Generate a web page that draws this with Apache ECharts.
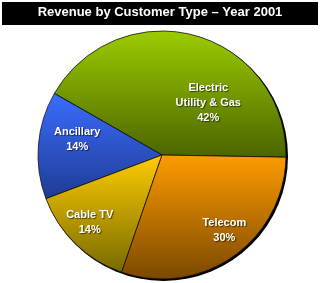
<!DOCTYPE html>
<html>
<head>
<meta charset="utf-8">
<script src="https://cdn.jsdelivr.net/npm/echarts@6/dist/echarts.min.js"></script>
<style>html,body{margin:0;padding:0;background:#fff}#c{width:320px;height:283px}</style>
</head>
<body>
<div id="c"></div>
<script>
const titleText = 'Revenue by Customer Type – Year 2001';
const categories = ['Electric\nUtility & Gas', 'Ancillary', 'Cable TV', 'Telecom'];
const values = [42, 14, 14, 30];

const gradients = [
  ['#9ccc00', '#4b6400'],
  ['#3a6cff', '#1f3c94'],
  ['#ffcc00', '#776a00'],
  ['#ff9c00', '#7a4800']
];
const labelShift = [[29, 11], [-20, -10], [-27, 21], [25, 22]];

function grad(c) {
  return new echarts.graphic.LinearGradient(0, 0, 0, 1, [
    { offset: 0, color: c[0] }, { offset: 1, color: c[1] }
  ]);
}

const chart = echarts.init(document.getElementById('c'), null, { renderer: 'canvas' });
chart.setOption({
  animation: false,
  graphic: [
    { type: 'rect', shape: { x: 2, y: 2, width: 316, height: 23 }, style: { fill: '#000' }, z: 1 },
    { type: 'text', left: 'center', top: 6, z: 2,
      style: { text: titleText, fill: '#fff', font: 'bold 13px "Liberation Sans", Arial, sans-serif',
        textShadowColor: 'rgba(110,110,110,0.9)', textShadowOffsetX: 1, textShadowOffsetY: 1 } }
  ],
  series: [
    {
      type: 'pie', silent: true, center: [163.5, 156.5], radius: 124.5,
      label: { show: false }, labelLine: { show: false },
      itemStyle: { color: '#000' }, data: [{ value: 1 }], z: 1
    },
    {
      type: 'pie', center: [162, 155], radius: 124,
      startAngle: -1, clockwise: false, z: 2,
      data: categories.map((name, i) => ({
        name, value: values[i],
        itemStyle: { color: grad(gradients[i]) }
      })),
      itemStyle: { borderColor: '#111', borderWidth: 0.8 },
      label: {
        show: true, position: 'inside',
        formatter: p => p.name + '\n' + p.value + '%',
        color: '#fff', fontWeight: 'bold', fontSize: 11, lineHeight: 15,
        fontFamily: '"Liberation Sans", Arial, sans-serif',
        textShadowColor: 'rgba(0,0,0,0.6)', textShadowOffsetX: 1, textShadowOffsetY: 1, textShadowBlur: 1
      },
      labelLine: { show: false },
      labelLayout: p => ({ dx: labelShift[p.dataIndex][0], dy: labelShift[p.dataIndex][1] })
    }
  ]
});
</script>
</body>
</html>
